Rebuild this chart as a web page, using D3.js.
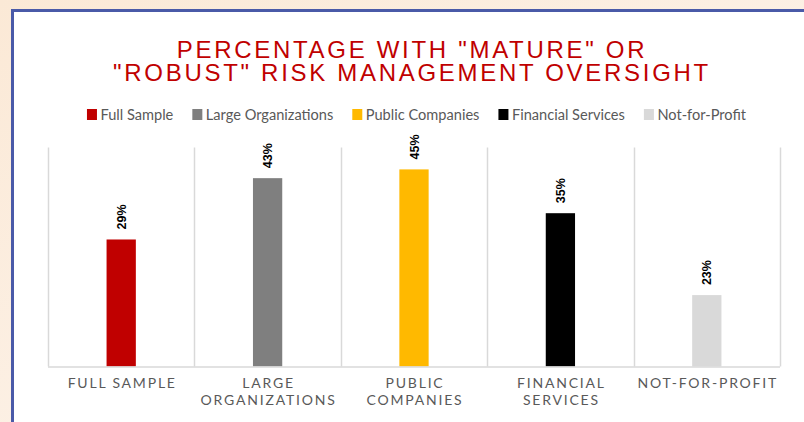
<!DOCTYPE html>
<html><head><meta charset="utf-8">
<script src="https://cdn.jsdelivr.net/npm/d3@7"></script>
<style>
html,body{margin:0;padding:0;}
body{width:804px;height:422px;overflow:hidden;}
</style></head>
<body><svg id="c" width="804" height="422"></svg>
<script>
const categories = ["Full Sample","Large Organizations","Public Companies","Financial Services","Not-for-Profit"];
const axisLabels = [["FULL SAMPLE"],["LARGE","ORGANIZATIONS"],["PUBLIC","COMPANIES"],["FINANCIAL","SERVICES"],["NOT-FOR-PROFIT"]];
const barValues = [29, 43, 45, 35, 16.3];
const dataLabels = ["29%","43%","45%","35%","23%"];
const colors = ["#c00000","#7f7f7f","#ffb900","#000000","#d9d9d9"];
const yTicks = [0, 50];
const titleLines = ['PERCENTAGE WITH "MATURE" OR','"ROBUST" RISK MANAGEMENT OVERSIGHT'];

const svg = d3.select("#c");
const defs = svg.append("defs");
const g = defs.append("linearGradient").attr("id","bg").attr("x1","0").attr("y1","0").attr("x2","1").attr("y2","1");
g.append("stop").attr("offset","0").attr("stop-color","#fbe9d6");
g.append("stop").attr("offset","1").attr("stop-color","#fdf6f1");
svg.append("rect").attr("width",804).attr("height",422).attr("fill","url(#bg)");
// panel
svg.append("rect").attr("x",12.5).attr("y",10.5).attr("width",900).attr("height",500)
  .attr("fill","#fff").attr("stroke","#4a5aa8").attr("stroke-width",3);

// title
const title = svg.append("text").attr("text-anchor","middle")
  .style("font-family","'Liberation Sans', Arial, sans-serif").style("font-size","24px")
  .style("letter-spacing","2.7px").attr("fill","#c00000");
titleLines.forEach((t,i)=>title.append("tspan").attr("x",412).attr("y",58+i*22.5).text(t));

// scales
const x = d3.scaleBand().domain(categories).range([48,780]).paddingInner(0).paddingOuter(0);
const y = d3.scaleLinear().domain([yTicks[0], yTicks[1]]).range([366.5,147.5]);

// gridlines (category boundaries)
const bounds = categories.map(c=>x(c)).concat([x(categories[categories.length-1])+x.bandwidth()]);
svg.append("g").selectAll("line").data(bounds).join("line")
  .attr("x1",d=>Math.round(d)+0.5).attr("x2",d=>Math.round(d)+0.5)
  .attr("y1",y(yTicks[1])).attr("y2",y(0))
  .attr("stroke","#d9d9d9").attr("stroke-width",1.5);

// bars
const bw = x.bandwidth()*0.2;
svg.append("g").selectAll("rect").data(categories).join("rect")
  .attr("x",(d)=>x(d)+x.bandwidth()/2-bw/2)
  .attr("y",(d,i)=>y(barValues[i]))
  .attr("width",bw)
  .attr("height",(d,i)=>y(0)-y(barValues[i]))
  .attr("fill",(d,i)=>colors[i]);

// axis line
svg.append("line").attr("x1",48).attr("x2",780).attr("y1",y(0)+0.5).attr("y2",y(0)+0.5)
  .attr("stroke","#d9d9d9").attr("stroke-width",1.5);

// data labels
svg.append("g").selectAll("text").data(categories).join("text")
  .attr("transform",(d,i)=>`translate(${x(d)+x.bandwidth()/2+4.5},${y(barValues[i])-10}) rotate(-90)`)
  .attr("text-anchor","start")
  .style("font-family","'Liberation Sans', Arial, sans-serif").style("font-weight","bold").style("font-size","12.5px")
  .attr("fill","#000")
  .text((d,i)=>dataLabels[i]);

// axis labels
const ax = svg.append("g");
categories.forEach((c,i)=>{
  const t = ax.append("text").attr("text-anchor","middle")
    .style("font-family","Lato, sans-serif").style("font-size","14px").style("letter-spacing","1.8px")
    .attr("fill","#595959");
  axisLabels[i].forEach((l,j)=>t.append("tspan").attr("x",x(c)+x.bandwidth()/2+1).attr("y",388+j*17).text(l));
});

// legend
const leg = svg.append("g");
let cx = 0;
categories.forEach((c,i)=>{
  const it = leg.append("g");
  it.append("rect").attr("x",cx).attr("y",-11).attr("width",10).attr("height",11).attr("fill",colors[i]);
  const t = it.append("text").attr("x",cx+13.5).attr("y",0)
    .style("font-family","Lato, sans-serif").style("font-size","14.6px").attr("fill","#595959").text(c);
  const w = t.node().getComputedTextLength();
  cx += 13.5 + w + 19;
});
const total = cx - 19;
leg.attr("transform",`translate(${416.5-total/2},120)`);
</script></body></html>
